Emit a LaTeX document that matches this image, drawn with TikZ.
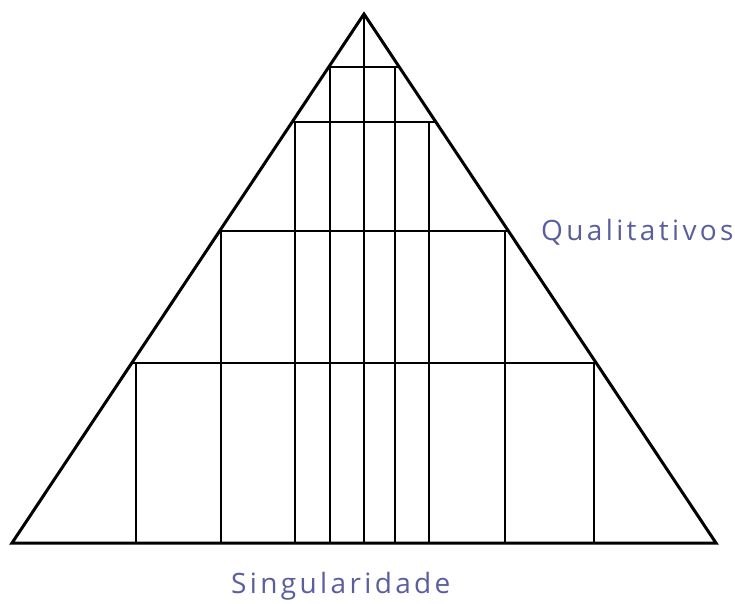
\documentclass[tikz,border=0pt]{standalone}
\usepackage{fontspec}
\setmainfont{Open Sans}[LetterSpace=12]
\definecolor{labelblue}{HTML}{5A5E9C}
\begin{document}
\begin{tikzpicture}[x=1pt,y=-1pt,
  outline/.style={line width=3pt,line join=miter},
  grid/.style={line width=1.6pt,black},
  lbl/.style={text=labelblue,font=\fontsize{28}{30}\selectfont,inner sep=0pt}]
\useasboundingbox (0,0) rectangle (735,603);
\coordinate (A) at (364,14);
\coordinate (L) at (12,543);
\coordinate (R) at (716,543);
% horizontal lines
\draw[grid] (329,67) -- (399,67);
\draw[grid] (292,122) -- (436,122);
\draw[grid] (220,231) -- (508,231);
\draw[grid] (132,363) -- (596,363);
% vertical lines
\draw[grid] (364,14) -- (364,543);
\draw[grid] (330,67) -- (330,543);
\draw[grid] (395,67) -- (395,543);
\draw[grid] (295,122) -- (295,543);
\draw[grid] (429,122) -- (429,543);
\draw[grid] (221,231) -- (221,543);
\draw[grid] (505,231) -- (505,543);
\draw[grid] (136,363) -- (136,543);
\draw[grid] (594,363) -- (594,543);
\draw[outline] (A) -- (R) -- (L) -- cycle;
\node[lbl,anchor=base west] (q) at (541,240) {Qualitativos};
\node[lbl,anchor=base west] (s) at (231,593) {Singularidade};
\end{tikzpicture}
\end{document}
